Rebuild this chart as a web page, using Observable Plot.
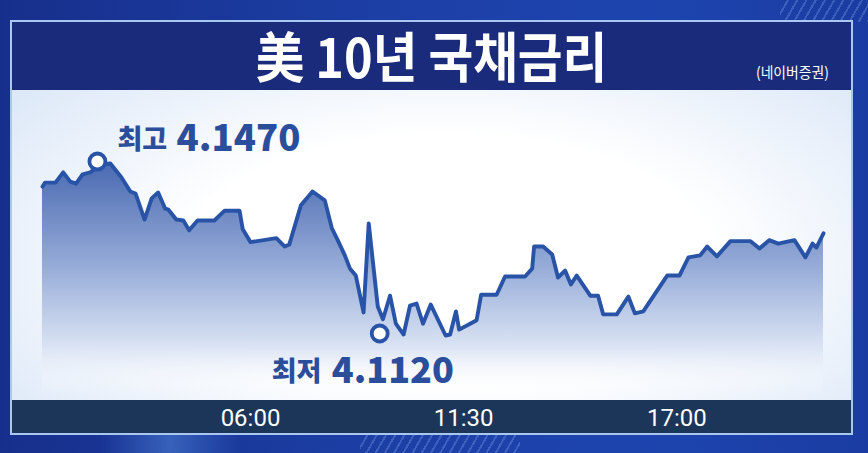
<!DOCTYPE html>
<html>
<head>
<meta charset="utf-8">
<script src="https://cdn.jsdelivr.net/npm/d3@7"></script>
<script src="https://cdn.jsdelivr.net/npm/@observablehq/plot@0.6"></script>
<style>
  html, body { margin: 0; padding: 0; }
  body {
    width: 868px; height: 453px; overflow: hidden; position: relative;
    background: linear-gradient(90deg, #172f8c 0%, #1c3fa6 45%, #1d44ae 75%, #1a3ca2 100%);
    font-family: "Noto Sans CJK KR", "Noto Sans", sans-serif;
  }
  .stripes1 { position: absolute; left: 780px; top: 0; width: 88px; height: 22px;
    background: repeating-linear-gradient(120deg, rgba(255,255,255,0) 0 6px, rgba(160,190,255,0.25) 6px 8px); }
  .stripes2 { position: absolute; left: 360px; top: 434px; width: 160px; height: 19px;
    background: repeating-linear-gradient(120deg, rgba(255,255,255,0) 0 6px, rgba(160,190,255,0.25) 6px 8px); }
  .band { position: absolute; left: 100px; top: 434px; width: 140px; height: 19px;
    background: linear-gradient(90deg, rgba(90,150,230,0), rgba(90,150,230,0.45), rgba(90,150,230,0)); }
  .frame { position: absolute; left: 10px; top: 20px; width: 839px; height: 411px;
    border: 2px solid #a9c7f0; background: #ffffff; }
  .titlebar { position: absolute; left: 12px; top: 22px; width: 839px; height: 68px; background: #1b2b7c; }
  .title { position: absolute; left: 12px; top: 22px; width: 839px; height: 66px;
    color: #ffffff; font-weight: 700; font-size: 54px; line-height: 66px; text-align: center;
    transform: scaleX(0.9); transform-origin: 50% 50%; white-space: nowrap; }
  .source { position: absolute; left: 756px; top: 62px; color: #ffffff; font-size: 15px;
    line-height: 20px; white-space: nowrap; transform: scaleX(0.92); transform-origin: 0 50%; }
  .chartbg { position: absolute; left: 12px; top: 90px; width: 839px; height: 310px;
    background: radial-gradient(ellipse 70% 90% at 52% 55%, #ffffff 45%, #e7effa 80%, #d9e6f7 100%); }
  .axisbar { position: absolute; left: 12px; top: 400px; width: 839px; height: 33px; background: #1b3658; }
  #chart { position: absolute; left: 12px; top: 90px; }
  #chart svg { background: transparent; overflow: visible; }
</style>
</head>
<body>
<div class="stripes1"></div>
<div class="band"></div>
<div class="stripes2"></div>
<div class="frame"></div>
<div class="titlebar"></div>
<div class="title">美 10년 국채금리</div>
<div class="source">(네이버증권)</div>
<div class="chartbg"></div>
<div class="axisbar"></div>
<div id="chart"></div>
<script>
// ---- data ----
const times = ["00:38","00:42","00:58","01:10","01:21","01:30","01:40","01:52","02:00","02:11","02:23","02:40","02:54","03:02","03:16","03:27","03:37","03:48","03:53","04:05","04:16","04:25","04:38","05:04","05:20","05:43","05:48","06:00","06:40","06:53","07:00","07:18","07:36","07:55","08:06","08:15","08:26","08:34","08:43","08:55","09:03","09:17","09:25","09:36","09:45","09:57","10:07","10:17","10:27","10:39","11:02","11:09","11:18","11:23","11:40","11:50","11:57","12:21","12:34","13:05","13:16","13:19","13:33","13:47","13:56","14:07","14:16","14:25","14:46","14:58","15:06","15:27","15:45","15:55","16:08","16:45","17:04","17:18","17:36","17:47","18:02","18:23","18:54","19:08","19:23","19:37","20:02","20:19","20:30","20:36","20:47"];
const values = [4.1423,4.1431,4.1431,4.1452,4.1433,4.1429,4.1448,4.1452,4.1460,4.1468,4.1470,4.1442,4.1413,4.1409,4.1356,4.1399,4.1411,4.1378,4.1376,4.1356,4.1354,4.1334,4.1354,4.1354,4.1374,4.1374,4.1336,4.1310,4.1318,4.1301,4.1305,4.1385,4.1413,4.1395,4.1338,4.1314,4.1283,4.1256,4.1242,4.1167,4.1348,4.1179,4.1153,4.1201,4.1144,4.1122,4.1181,4.1185,4.1144,4.1183,4.1120,4.1122,4.1169,4.1132,4.1144,4.1151,4.1203,4.1203,4.1240,4.1240,4.1256,4.1301,4.1301,4.1285,4.1238,4.1252,4.1224,4.1242,4.1201,4.1201,4.1163,4.1163,4.1199,4.1165,4.1169,4.1242,4.1242,4.1279,4.1283,4.1301,4.1281,4.1312,4.1312,4.1297,4.1314,4.1307,4.1314,4.1279,4.1307,4.1299,4.1328];
const tickLabels = ["06:00","11:30","17:00"];
const markerTimes = ["02:03","09:20"];
const markerValues = [4.1470, 4.1120];
const markerLabels = ["최고","최저"];
const areaBase = 4.100;

// ---- build ----
const toMin = s => { const [h, m] = s.split(":").map(Number); return h * 60 + m; };
const data = times.map((t, i) => ({t: toMin(t), v: values[i]}));
const markers = markerTimes.map((t, i) => ({t: toMin(t), v: markerValues[i], label: markerLabels[i], num: markerValues[i].toFixed(4)}));
const hi = [markers[0]], lo = [markers[1]];
const tickMins = tickLabels.map(toMin);

const lineColor = "#2853a6";
const textColor = "#2a4e9c";
const font = '"Noto Sans CJK KR", sans-serif';

const plot = Plot.plot({
  width: 839, height: 343,
  marginLeft: 30, marginRight: 28, marginTop: 0, marginBottom: 33,
  x: {type: "linear", domain: d3.extent(data, d => d.t)},
  y: {domain: [4.112, 4.147], range: [245, 73], axis: null},
  style: {background: "transparent", overflow: "visible"},
  marks: [
    Plot.areaY(data, {x: "t", y1: areaBase, y2: "v", fill: "url(#areaGrad)"}),
    Plot.line(data, {x: "t", y: "v", stroke: lineColor, strokeWidth: 3.9, strokeLinejoin: "round", strokeLinecap: "round"}),
    Plot.dot(markers, {x: "t", y: "v", r: 8, fill: "#ffffff", stroke: lineColor, strokeWidth: 3.8, dy: -2}),
    Plot.text(hi, {x: "t", y: "v", text: "label", textAnchor: "start", dx: 20, dy: -23, fontSize: 27, fontWeight: 900, fill: textColor, fontFamily: font}),
    Plot.text(hi, {x: "t", y: "v", text: "num", textAnchor: "start", dx: 79, dy: -24, fontSize: 36.5, fontWeight: 900, fill: textColor, fontFamily: font}),
    Plot.text(lo, {x: "t", y: "v", text: "label", textAnchor: "start", dx: -108, dy: 37, fontSize: 27, fontWeight: 900, fill: textColor, fontFamily: font}),
    Plot.text(lo, {x: "t", y: "v", text: "num", textAnchor: "start", dx: -48, dy: 36, fontSize: 36, fontWeight: 900, fill: textColor, fontFamily: font}),
    Plot.axisX({ticks: tickMins, tickFormat: d => tickLabels[tickMins.indexOf(d)], tickSize: 0, tickPadding: 8, fontSize: 24, fill: "#ffffff", fontFamily: "Roboto, sans-serif", label: null})
  ]
});

const ns = "http://www.w3.org/2000/svg";
const defs = document.createElementNS(ns, "defs");
defs.innerHTML = `<linearGradient id="areaGrad" x1="0" y1="0" x2="0" y2="1">
  <stop offset="0" stop-color="#4a6ab2"/>
  <stop offset="0.45" stop-color="#97acd8"/>
  <stop offset="0.8" stop-color="#dbe4f4"/>
  <stop offset="1" stop-color="#ffffff" stop-opacity="0"/>
</linearGradient>`;
plot.insertBefore(defs, plot.firstChild);
document.getElementById("chart").appendChild(plot);
</script>
</body>
</html>
